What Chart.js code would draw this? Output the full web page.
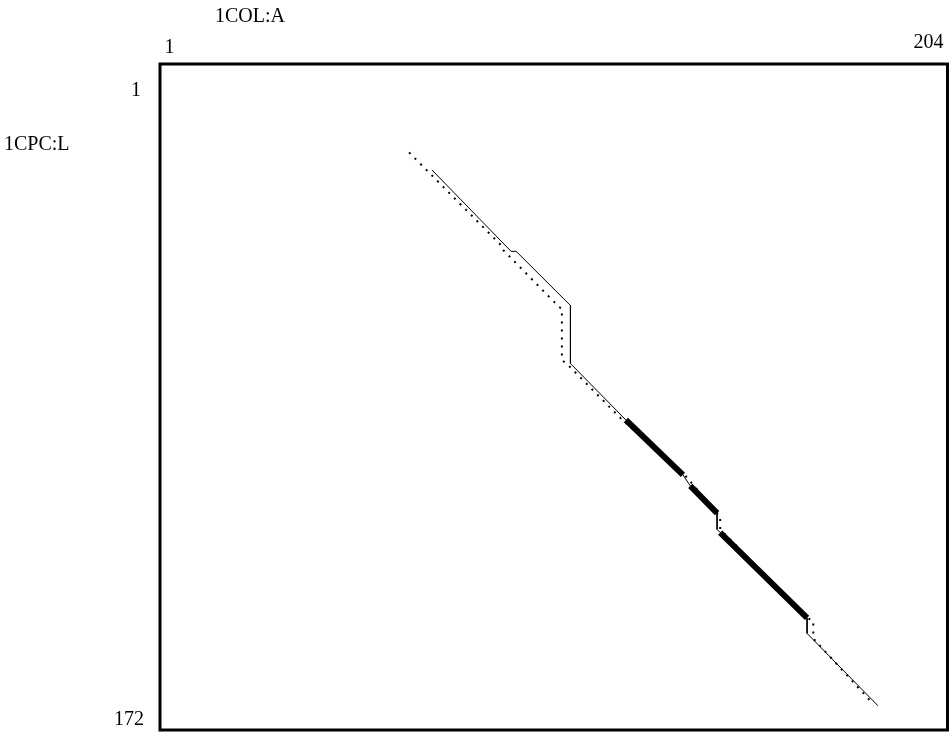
<!DOCTYPE html>
<html lang="en">
  <head>
    <meta charset="UTF-8" />
    <title>1COL:A vs 1CPC:L</title>
    <script src="https://cdn.jsdelivr.net/npm/chart.js"></script>
    <style>
      html, body { margin: 0; padding: 0; background: #fff; }
      #wrap { width: 950px; height: 733px; }
    </style>
  </head>
  <body>
    <div id="wrap"><canvas id="dotChart"></canvas></div>
    <script>
      // axis names and the corner tick labels
      const xTitle = "1COL:A";
      const yTitle = "1CPC:L";
      const xRange = [1, 204];
      const yRange = [1, 172];

      // thin solid trace (residue x, residue y)
      const solidX = [71.1, 91.5, 92.8, 106.8, 106.8, 121.1, 135.8, 137.7, 144.6, 144.6, 145.4, 167.8, 167.8, 186.1];
      const solidY = [28.2, 49.1, 49.1, 63.0, 77.9, 92.4, 106.5, 109.3, 116.3, 120.5, 121.3, 143.2, 147.2, 165.8];

      // dotted trace
      const dottedX = [65.2, 89.0, 89.3, 103.9, 104.6, 104.6, 106.2, 119.7, 136.9, 138.2, 144.6, 145.4, 145.4, 168.0, 169.4, 169.4, 184.1];
      const dottedY = [23.7, 47.6, 48.6, 63.4, 63.8, 77.0, 78.3, 91.9, 107.2, 108.8, 116.3, 117.1, 120.5, 143.3, 144.0, 148.5, 164.5];

      // thick segments (start x, start y, end x, end y)
      const thickSegs = [
        [121.1, 92.4, 135.8, 106.5],
        [137.7, 109.3, 144.6, 116.3],
        [145.4, 121.3, 167.8, 143.2]
      ];

      const toPts = (xs, ys) => xs.map((x, i) => ({ x: x, y: ys[i] }));

      const datasets = [
        {
          data: toPts(dottedX, dottedY),
          borderColor: "#000",
          borderWidth: 2,
          borderDash: [2, 6],
          borderCapStyle: "butt"
        },
        {
          data: toPts(solidX, solidY),
          borderColor: "#000",
          borderWidth: 1
        }
      ];
      thickSegs.forEach(s => {
        datasets.push({
          data: [{ x: s[0], y: s[1] }, { x: s[2], y: s[3] }],
          borderColor: "#000",
          borderWidth: 6,
          borderCapStyle: "butt"
        });
      });

      // frame and corner labels
      const framePlugin = {
        id: "frame",
        afterDraw(chart) {
          const ctx = chart.ctx;
          const a = chart.chartArea;
          const xs = chart.scales.x, ys = chart.scales.y;
          ctx.save();
          ctx.strokeStyle = "#000";
          ctx.lineWidth = 3;
          ctx.strokeRect(a.left, a.top, a.right - a.left, a.bottom - a.top);

          ctx.fillStyle = "#000";
          ctx.font = '20px "Liberation Serif"';
          ctx.textBaseline = "alphabetic";

          ctx.textAlign = "left";
          ctx.fillText(xTitle, a.left + 55, 22);
          ctx.fillText(String(xRange[0]), xs.getPixelForValue(xRange[0]) + 4.5, 53);
          ctx.fillText(yTitle, 4, 150);

          ctx.textAlign = "right";
          ctx.fillText(String(xRange[1]), xs.getPixelForValue(xRange[1]) - 4, 48);
          ctx.fillText(String(yRange[0]), a.left - 19, 96);
          ctx.fillText(String(yRange[1]), a.left - 16, ys.getPixelForValue(yRange[1]) - 5);
          ctx.restore();
        }
      };

      new Chart(document.getElementById("dotChart"), {
        type: "scatter",
        data: { datasets: datasets },
        options: {
          responsive: true,
          maintainAspectRatio: false,
          animation: false,
          layout: { padding: { left: 160, top: 64, right: 2.5, bottom: 3 } },
          elements: {
            point: { radius: 0, hoverRadius: 0 },
            line: { tension: 0, fill: false }
          },
          datasets: { scatter: { showLine: true } },
          scales: {
            x: { type: "linear", min: xRange[0], max: xRange[1], display: false },
            y: { type: "linear", min: yRange[0], max: yRange[1], reverse: true, display: false }
          },
          plugins: { legend: { display: false }, tooltip: { enabled: false } }
        },
        plugins: [framePlugin]
      });
    </script>
  </body>
</html>
